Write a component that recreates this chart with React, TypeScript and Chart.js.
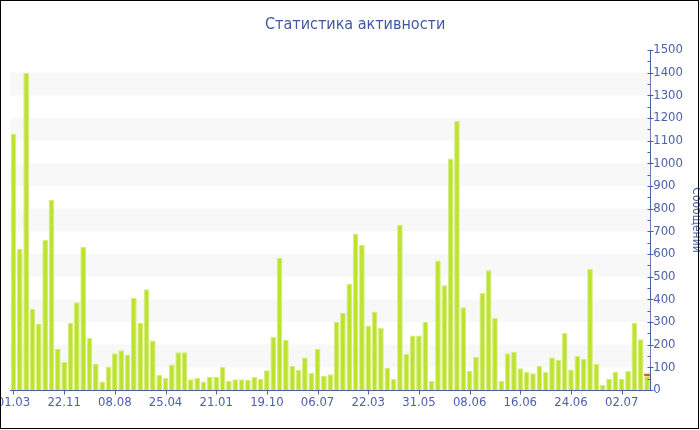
import { useEffect, useRef } from 'react';
import { Chart, registerables } from 'chart.js';

Chart.register(...registerables);

// Tick labels shown every 8th bar along the x axis
const tickLabels = ['01.03', '22.11', '08.08', '25.04', '21.01', '19.10', '06.07', '22.03', '31.05', '08.06', '16.06', '24.06', '02.07'];
const tickEvery = 8;

// Messages per period (green bars)
const messages = [
  1130, 622, 1400, 357, 293, 663, 838, 182, 124, 296,
  387, 632, 231, 116, 38, 104, 162, 175, 157, 406,
  296, 444, 218, 66, 53, 112, 166, 166, 47, 53,
  37, 57, 57, 101, 41, 47, 47, 44, 59, 50,
  87, 234, 584, 222, 106, 88, 143, 76, 182, 62,
  69, 300, 340, 468, 690, 640, 285, 346, 275, 99,
  50, 728, 160, 240, 240, 300, 40, 571, 462, 1021,
  1188, 365, 84, 146, 429, 528, 318, 40, 162, 168,
  96, 81, 74, 106, 81, 144, 132, 251, 90, 151,
  137, 535, 115, 22, 49, 79, 50, 84, 297, 224,
  62,
];

// Extra (red) segment on top of the last bar
const extraIndex = 100;
const extraValue = 10;

const yMin = 0;
const yMax = 1500;
const yStep = 100;

const AXIS = '#4a5ea8';
const TEXT = '#4d61a8';
const FONT = "'DejaVu Sans Condensed', 'Liberation Sans', sans-serif";

export default function App() {
  const ref = useRef<HTMLCanvasElement | null>(null);

  useEffect(() => {
    document.body.style.margin = '0';
    const canvas = ref.current;
    if (!canvas) return;

    const categories = messages.map((_, i) => String(i));

    const bandsPlugin = {
      id: 'bands',
      beforeDatasetsDraw(chart: any) {
        const { ctx, chartArea } = chart;
        const y = chart.scales.y;
        ctx.save();
        ctx.fillStyle = '#f8f8f8';
        for (let v = yMin + yStep; v < yMax; v += 2 * yStep) {
          const top = y.getPixelForValue(v + yStep);
          const bot = y.getPixelForValue(v);
          ctx.fillRect(chartArea.left, top, chartArea.right - chartArea.left, bot - top);
        }
        ctx.restore();
      },
    };

    const ticksPlugin = {
      id: 'axisTicks',
      afterDraw(chart: any) {
        const { ctx } = chart;
        const y = chart.scales.y;
        const x = chart.scales.x;
        ctx.save();
        ctx.strokeStyle = AXIS;
        ctx.lineWidth = 1;
        const ax = Math.round(y.left) + 0.5;
        ctx.beginPath();
        for (let v = yMin; v <= yMax; v += yStep / 2) {
          const py = Math.round(y.getPixelForValue(v)) + 0.5;
          const major = v % yStep === 0;
          ctx.moveTo(ax - 3, py);
          ctx.lineTo(major ? ax + 3 : ax, py);
        }
        const by = Math.round(x.top) + 0.5;
        for (let i = 0; i < messages.length; i += tickEvery) {
          const px = Math.round(x.getPixelForValue(i)) + 0.5;
          ctx.moveTo(px, by);
          ctx.lineTo(px, by + 4);
        }
        ctx.stroke();
        // outer frame
        ctx.strokeStyle = '#000';
        ctx.strokeRect(0.5, 0.5, 698, 428);
        ctx.restore();
      },
    };

    const chart = new Chart(canvas, {
      type: 'bar',
      data: {
        labels: categories,
        datasets: [
          {
            data: messages,
            backgroundColor: '#bde22f',
            borderColor: '#d3ee78',
            borderWidth: 1,
            barPercentage: 0.9,
            categoryPercentage: 1,
          },
          {
            data: [{ x: String(extraIndex), y: extraValue }] as any,
            backgroundColor: '#e2552b',
            borderWidth: 0,
            barPercentage: 0.9,
            categoryPercentage: 1,
          },
        ],
      },
      options: {
        animation: false,
        responsive: true,
        maintainAspectRatio: false,
        layout: { padding: { left: 10.3, right: 0, top: 0, bottom: 0 } },
        plugins: {
          legend: { display: false },
          tooltip: { enabled: false },
          title: {
            display: true,
            text: 'Статистика активности',
            color: '#3f58a6',
            font: { family: FONT, size: 16, weight: 'normal' },
            padding: { top: 15, bottom: 15.8 },
          },
        },
        scales: {
          x: {
            stacked: true,
            offset: true,
            grid: { display: false, drawTicks: false },
            border: { display: true, color: AXIS, width: 1 },
            ticks: {
              autoSkip: false,
              maxRotation: 0,
              minRotation: 0,
              padding: 5,
              color: TEXT,
              font: { family: FONT, size: 13 },
              callback: (_v: any, i: number) => (i % tickEvery === 0 ? tickLabels[i / tickEvery] : null),
            },
            afterFit: (s: any) => {
              s.height = 40;
              s.paddingLeft = 0;
              s.paddingRight = 0;
            },
          },
          y: {
            position: 'right',
            stacked: true,
            min: yMin,
            max: yMax,
            grid: { display: false, drawTicks: false },
            border: { display: true, color: AXIS, width: 1 },
            ticks: {
              stepSize: yStep,
              padding: 3,
              color: TEXT,
              font: { family: FONT, size: 13 },
              callback: (v: any) => String(v),
            },
            title: {
              display: true,
              text: 'Сообщений',
              color: TEXT,
              font: { family: FONT, size: 12 },
              padding: { top: -3, bottom: 0 },
            },
            afterFit: (s: any) => {
              s.width = 49.8;
              s.paddingTop = 0;
              s.paddingBottom = 0;
            },
          },
        },
      },
      plugins: [bandsPlugin, ticksPlugin],
    });

    return () => chart.destroy();
  }, []);

  return (
    <div style={{ position: 'absolute', left: 0, top: 0, width: 700, height: 430 }}>
      <canvas ref={ref} />
    </div>
  );
}
